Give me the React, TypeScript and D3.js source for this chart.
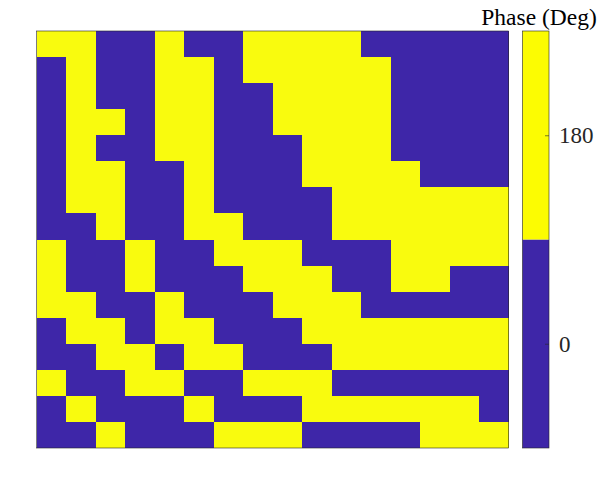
import React, { useRef, useEffect } from 'react';
import * as d3 from 'd3';

// phase in degrees, row 0 = top of the image
const phaseRows: number[][] = [
  [180, 180, 0, 0, 180, 0, 0, 180, 180, 180, 180, 0, 0, 0, 0, 0],
  [0, 180, 0, 0, 180, 180, 0, 180, 180, 180, 180, 180, 0, 0, 0, 0],
  [0, 180, 0, 0, 180, 180, 0, 0, 180, 180, 180, 180, 0, 0, 0, 0],
  [0, 180, 180, 0, 180, 180, 0, 0, 180, 180, 180, 180, 0, 0, 0, 0],
  [0, 180, 0, 0, 180, 180, 0, 0, 0, 180, 180, 180, 0, 0, 0, 0],
  [0, 180, 180, 0, 0, 180, 0, 0, 0, 180, 180, 180, 180, 0, 0, 0],
  [0, 180, 180, 0, 0, 180, 0, 0, 0, 0, 180, 180, 180, 180, 180, 180],
  [0, 0, 180, 0, 0, 180, 180, 0, 0, 0, 180, 180, 180, 180, 180, 180],
  [180, 0, 0, 180, 0, 0, 180, 180, 180, 0, 0, 0, 180, 180, 180, 180],
  [180, 0, 0, 180, 0, 0, 0, 180, 180, 180, 0, 0, 180, 180, 0, 0],
  [180, 180, 0, 0, 180, 0, 0, 0, 180, 180, 180, 0, 0, 0, 0, 0],
  [0, 180, 180, 0, 180, 180, 0, 0, 0, 180, 180, 180, 180, 180, 180, 180],
  [0, 0, 180, 180, 0, 180, 180, 0, 0, 0, 180, 180, 180, 180, 180, 180],
  [180, 0, 0, 180, 180, 0, 0, 180, 180, 180, 0, 0, 0, 0, 0, 0],
  [0, 180, 0, 0, 0, 180, 0, 0, 0, 180, 180, 180, 180, 180, 180, 0],
  [0, 0, 180, 0, 0, 0, 180, 180, 180, 0, 0, 0, 0, 180, 180, 180],
];

const colorLimits = [-90, 270];
const colorbarTicks = [0, 180];
const cellColors = ['#3e26a8', '#f9fb0e'];
const colorbarColors = ['#3e26a8', '#fcfc02'];
const colorbarTitle = 'Phase (Deg)';

const W = 598;
const H = 486;
const plot = { left: 36.5, right: 508.5, top: 31, bottom: 448 };
const cbar = { left: 522.5, right: 549, top: 31, bottom: 448 };
const FONT = '"Liberation Serif", "Times New Roman", serif';

const App = () => {
  const svgRef = useRef<SVGSVGElement>(null);

  useEffect(() => {
    const svg = d3.select(svgRef.current);
    svg.selectAll('*').remove();

    const nRows = phaseRows.length;
    const nCols = phaseRows[0].length;

    const x = d3.scaleBand<number>()
      .domain(d3.range(nCols))
      .range([plot.left, plot.right]);
    const y = d3.scaleBand<number>()
      .domain(d3.range(nRows))
      .range([plot.top, plot.bottom]);

    const color = d3.scaleQuantize<string>()
      .domain(colorLimits)
      .range(cellColors);

    const cells = phaseRows.flatMap((row, r) => row.map((v, c) => ({ r, c, v })));

    svg.append('g')
      .selectAll('rect')
      .data(cells)
      .enter()
      .append('rect')
      .attr('x', d => x(d.c)!)
      .attr('y', d => y(d.r)!)
      .attr('width', x.bandwidth() + 0.3)
      .attr('height', y.bandwidth() + 0.3)
      .attr('fill', d => color(d.v))
      .attr('shape-rendering', 'crispEdges');

    svg.append('rect')
      .attr('x', plot.left)
      .attr('y', plot.top)
      .attr('width', plot.right - plot.left)
      .attr('height', plot.bottom - plot.top)
      .attr('fill', 'none')
      .attr('stroke', '#262626')
      .attr('stroke-width', 0.6);

    // colorbar
    const cy = d3.scaleLinear()
      .domain(colorLimits)
      .range([cbar.bottom, cbar.top]);

    const step = (colorLimits[1] - colorLimits[0]) / colorbarColors.length;
    const bins = colorbarColors.map((c, i) => ({
      c,
      lo: colorLimits[0] + i * step,
      hi: colorLimits[0] + (i + 1) * step,
    }));

    svg.append('g')
      .selectAll('rect')
      .data(bins)
      .enter()
      .append('rect')
      .attr('x', cbar.left)
      .attr('y', d => cy(d.hi))
      .attr('width', cbar.right - cbar.left)
      .attr('height', d => cy(d.lo) - cy(d.hi))
      .attr('fill', d => d.c);

    svg.append('rect')
      .attr('x', cbar.left)
      .attr('y', cbar.top)
      .attr('width', cbar.right - cbar.left)
      .attr('height', cbar.bottom - cbar.top)
      .attr('fill', 'none')
      .attr('stroke', '#262626')
      .attr('stroke-width', 0.6);

    const axis = d3.axisRight(cy)
      .tickValues(colorbarTicks)
      .tickSizeInner(-4)
      .tickSizeOuter(0)
      .tickPadding(10);

    const ag = svg.append('g')
      .attr('transform', `translate(${cbar.right},0)`)
      .call(axis);
    ag.select('.domain').remove();
    ag.selectAll('.tick line').attr('stroke', '#262626').attr('stroke-width', 0.6);
    ag.selectAll('.tick text')
      .attr('font-family', FONT)
      .attr('font-size', 23)
      .attr('fill', '#262626');

    svg.append('text')
      .attr('x', 539)
      .attr('y', 25)
      .attr('text-anchor', 'middle')
      .attr('font-family', FONT)
      .attr('font-size', 23.5)
      .attr('fill', '#000')
      .text(colorbarTitle);
  }, []);

  return (
    <svg
      ref={svgRef}
      width={W}
      height={H}
      style={{ position: 'absolute', left: 0, top: 0, background: '#fff' }}
    />
  );
};

export default App;
